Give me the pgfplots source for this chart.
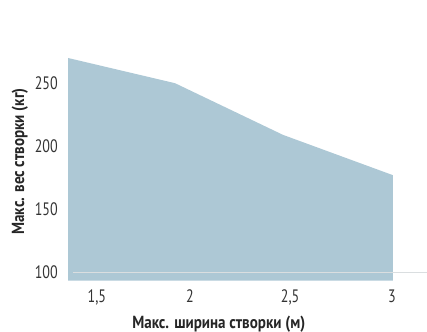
\documentclass[border=0pt]{standalone}
\usepackage{fontspec}
\setmainfont{PT Sans}[FakeStretch=0.78]
\newfontfamily\labelfont{PT Sans}[FakeStretch=0.86]
\usepackage{pgfplots}
\pgfplotsset{compat=1.18}
\definecolor{areablue}{RGB}{173,200,213}
\definecolor{gridgray}{RGB}{218,222,224}
\begin{document}
\begin{tikzpicture}
\useasboundingbox (-68pt,-50.3pt) rectangle (359pt,280.7pt);
\begin{axis}[
  scale only axis,
  width=359pt, height=280.7pt,
  xmin=1.353, xmax=3.178,
  ymin=93.3, ymax=316,
  axis line style={draw=none},
  major tick length=0pt,
  xtick={1.5,1.973,2.482,3},
  xticklabels={{1,5},{2},{2,5},{3}},
  ytick={100,150,200,250},
  /pgf/number format/assume math mode=true,
  every tick label/.append style={font=\fontsize{18}{18}\selectfont, inner sep=0pt, text=black!80},
  xticklabel shift=9pt,
  yticklabel shift=10pt,
  xlabel={Макс. ширина створки (м)},
  ylabel={Макс. вес створки (кг)},
  label style={font=\labelfont\bfseries\fontsize{17.5}{17.5}\selectfont, text=black!85},
  xlabel style={at={(axis description cs:0.42,-0.156)}, anchor=center, inner sep=0pt},
  ylabel style={at={(axis description cs:-0.134,0.425)}, anchor=center, inner sep=0pt},
  clip=false,
]
\addplot[fill=areablue, draw=none] coordinates {
  (1.353,270) (1.897,250) (2.446,209) (3.005,177)
} \closedcycle;
\addplot[draw=gridgray, line width=0.7pt] coordinates {(1.378,100) (3.178,100)};
\end{axis}
\end{tikzpicture}
\end{document}
